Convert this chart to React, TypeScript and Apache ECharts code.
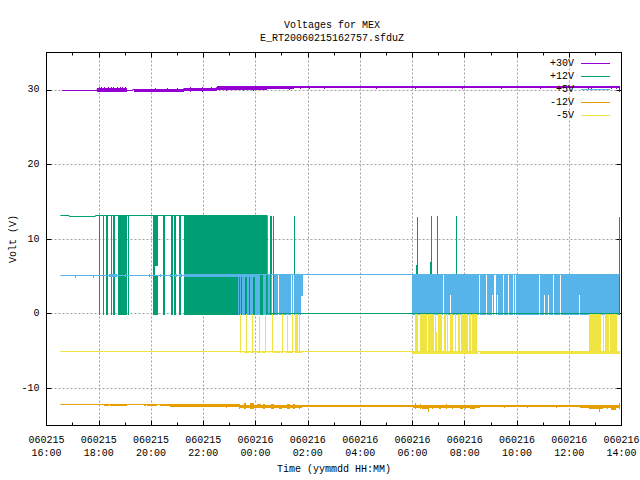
import React, { useEffect, useRef } from "react";
import * as echarts from "echarts";

const seriesNames = ["+30V", "+12V", "+5V", "-12V", "-5V"];
const seriesColors = ["#9400d3", "#009e73", "#56b4e9", "#e69f00", "#f0e442"];
const xTickLabels = [
  "060215\n16:00", "060215\n18:00", "060215\n20:00", "060215\n22:00",
  "060216\n00:00", "060216\n02:00", "060216\n04:00", "060216\n06:00",
  "060216\n08:00", "060216\n10:00", "060216\n12:00", "060216\n14:00",
];
const yTicks = [-10, 0, 10, 20, 30];

// Traces: [hours after 16:00, volts]
const trace30 = [[0.59, 29.906], [1.93, 29.906], [1.93, 30.04], [3.05, 30.04], [3.05, 29.906], [3.3, 29.906], [3.3, 30.04], [5.25, 30.04], [5.25, 30.17], [6.5, 30.17], [6.5, 30.31], [21.95, 30.31]];
const trace12 = [[0.53, 13.15], [0.87, 13.15], [0.87, 13.01], [1.87, 13.01], [1.87, 13.15], [8.447, 13.15], [8.447, 0.013], [21.91, 0.013]];
const trace5 = [[0.53, 5.107], [5.27, 5.107], [5.27, 5.24], [21.95, 5.24]];
const traceM12 = [[0.53, -12.18], [4.7, -12.18], [4.7, -12.32], [21.95, -12.32]];
const traceM5 = [[0.53, -5.08], [21.95, -5.08]];

// Bands: [start hour, end hour, low volts, high volts]
const bands30 = [
  [1.93, 3.08, 29.82, 30.2], [2.0, 2.03, 29.8, 30.32], [2.1, 2.13, 29.8, 30.38], [2.2, 2.23, 29.8, 30.32], [2.35, 2.4, 29.8, 30.38], [2.47, 2.5, 29.8, 30.32], [2.55, 2.58, 29.8, 30.38],
  [2.7, 2.75, 29.8, 30.38], [2.8, 2.84, 29.8, 30.38], [2.88, 2.92, 29.8, 30.35], [3.0, 3.03, 29.8, 30.35], [3.33, 4.1, 29.9, 30.08], [3.55, 3.58, 29.82, 30.08],
  [4.0, 4.03, 29.85, 30.1], [4.1, 5.25, 29.9, 30.12], [4.15, 4.2, 29.85, 30.2], [4.45, 4.5, 29.82, 30.15], [4.62, 4.66, 29.82, 30.2],
  [5.0, 5.05, 29.85, 30.2], [5.25, 6.52, 29.98, 30.28], [5.5, 5.53, 29.85, 30.35], [5.95, 6.0, 29.9, 30.42], [6.3, 6.35, 29.92, 30.42],
  [6.52, 8.43, 30.1, 30.47], [6.85, 6.88, 29.98, 30.47], [7.5, 7.53, 29.95, 30.47], [7.9, 7.95, 30.0, 30.47], [8.43, 9.46, 30.22, 30.47],
  [9.28, 9.31, 30.05, 30.47], [9.46, 21.95, 30.33, 30.47], [9.7, 9.73, 30.22, 30.47], [10.05, 10.1, 30.22, 30.47], [10.6, 10.63, 30.2, 30.47], [12.6, 12.63, 30.2, 30.47],
  [14.1, 14.13, 30.2, 30.47], [15.9, 15.93, 30.2, 30.47], [17.4, 17.43, 30.2, 30.47], [18.9, 18.93, 30.2, 30.47], [20.7, 20.75, 30.2, 30.47],
  [20.82, 20.87, 30.2, 30.47], [21.6, 21.63, 30.2, 30.47], [21.78, 21.81, 30.2, 30.47], [21.91, 21.94, 29.9, 30.47],
];
const bands12 = [
  [2.02, 2.059, 0, 13.12], [2.148, 2.186, 0, 13.12], [2.263, 2.339, 0, 13.12], [2.454, 2.492, 0, 13.12], [2.53, 2.607, 0, 13.12],
  [2.722, 2.76, 0, 13.12], [2.785, 3.066, 0, 13.12], [3.104, 3.142, 0, 13.12], [4.086, 4.163, 0, 13.12], [4.163, 4.265, 6.5, 13.12],
  [4.163, 4.265, 0, 5], [4.456, 4.545, 0, 13.12], [4.775, 4.826, 0, 13.12], [4.889, 4.94, 0, 13.12], [5.081, 5.132, 0, 13.12],
  [5.272, 8.447, 0, 13.12], [8.562, 8.613, 0, 13.12], [8.651, 8.715, 0, 13.12], [9.455, 9.48, 0, 13.12], [14.147, 14.185, 0, 6.5],
  [14.185, 14.223, 0, 13], [14.682, 14.72, 0, 6.9], [14.72, 14.758, 0, 13.12], [14.95, 14.988, 0, 13.12], [15.677, 15.715, 0, 13.12],
  [21.912, 21.95, 0, 13],
];
const bands5 = [
  [1.08, 1.1, 4.95, 5.1], [1.77, 1.79, 4.95, 5.1], [2.38, 2.7, 5.1, 5.25], [3.0, 3.06, 5.1, 5.25], [3.93, 3.96, 5.1, 5.25],
  [4.35, 4.37, 5.1, 5.25], [4.72, 4.74, 5.1, 5.25], [4.93, 5.0, 5.1, 5.25], [5.08, 5.2, 5.1, 5.25], [5.27, 8.0, 5.1, 5.25],
  [7.325, 7.363, 0, 5.22], [7.401, 7.44, 0, 5.22], [7.491, 7.605, 0, 5.22], [7.682, 7.759, 0, 5.22], [7.797, 7.912, 0, 5.22],
  [7.988, 8.179, 0, 5.22], [8.294, 8.409, 0, 5.22], [8.447, 8.536, 0, 5.22], [8.575, 8.613, 0, 5.22], [8.689, 8.868, 0, 5.22],
  [8.906, 9.365, 0, 5.22], [9.404, 9.442, 0, 5.22], [9.48, 9.748, 0, 5.22], [9.748, 9.812, 2.5, 5.22],
  [14.0, 15.179, 0, 5.22], [15.218, 15.447, 0, 5.22], [15.447, 15.485, 2.6, 5.22], [15.485, 16.557, 0, 5.22], [16.595, 16.824, 0, 5.22],
  [16.863, 17.054, 0, 5.22], [17.054, 17.092, 2.6, 5.22], [17.092, 17.13, 0, 5.22], [17.207, 17.245, 0, 5.22], [17.245, 17.283, 2.6, 5.22],
  [17.283, 17.475, 0, 5.22], [17.513, 17.666, 0, 5.22], [17.704, 17.857, 0, 5.22], [17.896, 17.934, 0, 5.22], [17.972, 18.852, 0, 5.22],
  [18.89, 19.043, 0, 5.22], [19.043, 19.082, 2.6, 5.22], [19.082, 19.196, 0, 5.22], [19.196, 19.235, 2.6, 5.22], [19.235, 19.388, 0, 5.22],
  [19.426, 19.655, 0, 5.22], [19.694, 20.382, 0, 5.22], [20.382, 20.42, 2.6, 5.22], [20.42, 21.912, 0, 5.22],
];
const bandsM12 = [
  [2.19, 2.4, -12.3, -12.18], [2.44, 3.08, -12.3, -12.18], [3.72, 3.8, -12.3, -12.18], [3.84, 4.23, -12.3, -12.18], [4.35, 4.74, -12.3, -12.18],
  [4.74, 7.35, -12.42, -12.18], [6.85, 6.88, -12.5, -12.18], [7.35, 9.77, -12.5, -12.2], [7.35, 7.42, -12.7, -12.1], [7.55, 7.62, -12.6, -12.05],
  [7.8, 7.95, -12.6, -12.05], [8.05, 8.2, -12.55, -12.1], [8.3, 8.36, -12.6, -12.1], [8.6, 8.7, -12.6, -12.15], [8.9, 9.0, -12.65, -12.2],
  [9.2, 9.3, -12.6, -12.1], [9.45, 9.5, -12.6, -12.15], [9.65, 9.7, -12.65, -12.2], [9.77, 14.04, -12.45, -12.2], [14.04, 16.6, -12.5, -12.2],
  [14.1, 14.14, -12.65, -12.05], [14.3, 14.33, -12.7, -12.1], [14.38, 14.6, -12.65, -12.2], [14.58, 14.61, -13.0, -12.2], [14.75, 14.79, -12.65, -12.2],
  [15.0, 15.1, -12.62, -12.2], [15.3, 15.33, -12.62, -12.15], [15.5, 15.53, -12.62, -12.2], [15.82, 15.95, -12.65, -12.2], [16.0, 16.05, -12.7, -12.2],
  [16.2, 16.4, -12.62, -12.2], [16.6, 20.42, -12.45, -12.22], [17.5, 17.53, -12.58, -12.22], [18.4, 18.43, -12.58, -12.22], [19.5, 19.53, -12.58, -12.22],
  [20.42, 21.93, -12.5, -12.22], [20.74, 21.31, -12.72, -12.25], [21.15, 21.18, -13.05, -12.25], [21.45, 21.5, -12.65, -12.2], [21.6, 21.8, -12.75, -12.2],
  [21.9, 21.93, -12.6, -11.95],
];
const bandsM5 = [
  [7.414, 7.453, -5.2, 0], [7.644, 7.682, -5.2, 0], [7.873, 7.912, -5.2, 0], [8.141, 8.179, -5.2, 0], [8.371, 8.409, -5.2, 0],
  [8.638, 8.677, -5.2, 0], [9.021, 9.059, -5.2, 0], [9.212, 9.251, -5.2, 0], [9.404, 9.442, -5.2, 0], [9.518, 9.633, -5.2, 0], [9.671, 9.71, -5.2, 0],
  [7.389, 7.453, -5.2, -5.1], [7.567, 7.759, -5.2, -5.1], [7.797, 7.95, -5.2, -5.1], [8.065, 8.218, -5.2, -5.1], [8.256, 8.409, -5.2, -5.1],
  [8.485, 8.524, -5.2, -5.1], [8.715, 8.944, -5.2, -5.1], [8.983, 9.059, -5.2, -5.1], [9.174, 9.404, -5.2, -5.1], [9.518, 9.786, -5.2, -5.1],
  [14.108, 14.223, -5.2, 0], [14.3, 14.567, -5.2, 0], [14.606, 14.835, -5.2, 0], [14.873, 14.912, -5.2, 0], [14.912, 14.95, -5.2, -2.5],
  [14.988, 15.141, -5.2, 0], [15.218, 15.294, -5.2, 0], [15.332, 15.371, -5.2, 0], [15.447, 15.562, -5.2, 0], [15.638, 15.677, -5.2, 0],
  [15.753, 15.83, -5.2, 0], [15.868, 16.136, -5.2, 0], [16.174, 16.251, -5.2, 0], [16.289, 16.48, -5.2, 0], [20.765, 21.224, -5.2, 0],
  [21.3, 21.339, -5.2, 0], [21.377, 21.53, -5.2, 0], [21.568, 21.836, -5.2, 0], [14.0, 16.5, -5.3, -5.1], [16.6, 21.93, -5.3, -5.1],
];

const traces = [trace30, trace12, trace5, traceM12, traceM5];
const bandLists = [bands30, bands12, bands5, bandsM12, bandsM5];

const FONT = "'Liberation Mono', monospace";

function renderBand(params: any, api: any) {
  const a = api.coord([api.value(0), api.value(3)]);
  const b = api.coord([api.value(1), api.value(2)]);
  const x0 = Math.round(a[0]);
  const y0 = Math.round(a[1]);
  const w = Math.max(1, Math.round(b[0]) - x0);
  const h = Math.max(1, Math.round(b[1]) - y0 + 1);
  return {
    type: "rect",
    shape: { x: x0, y: y0, width: w, height: h },
    style: { fill: api.visual("color"), stroke: null },
  };
}

export default function App() {
  const ref = useRef<HTMLDivElement>(null);
  useEffect(() => {
    const chart = echarts.init(ref.current!, null, { renderer: "svg" });
    const textStyle = { fontFamily: FONT, fontSize: 10, color: "#000" };
    const series: any[] = [];
    seriesNames.forEach((name, i) => {
      series.push({
        type: "line",
        name,
        data: traces[i],
        showSymbol: false,
        symbol: "none",
        lineStyle: { color: seriesColors[i], width: 1 },
        itemStyle: { color: seriesColors[i] },
        silent: true,
      });
      series.push({
        type: "custom",
        name,
        data: bandLists[i],
        renderItem: renderBand,
        itemStyle: { color: seriesColors[i] },
        encode: { x: [0, 1], y: [2, 3] },
        silent: true,
      });
    });
    const gridLine = { show: true, lineStyle: { color: "#a0a0a0", type: [2, 2], width: 1 } };
    const blackLine = { show: true, onZero: false, lineStyle: { color: "#000", width: 1 } };
    const xBase = {
      type: "value",
      min: 0,
      max: 22,
      interval: 2,
      axisLine: blackLine,
      axisTick: { show: true, inside: true, length: 5, lineStyle: { color: "#000" } },
      minorTick: { show: true, splitNumber: 2, length: 3, lineStyle: { color: "#000" } },
    };
    const yBase = {
      type: "value",
      min: -15,
      max: 35,
      axisLine: blackLine,
      axisTick: { show: true, inside: true, length: 5, customValues: yTicks, lineStyle: { color: "#000" } },
    };
    chart.setOption({
      animation: false,
      backgroundColor: "#fff",
      textStyle,
      title: {
        text: "Voltages for MEX\nE_RT20060215162757.sfduZ",
        left: 327,
        top: 14,
        textAlign: "center",
        textStyle: { ...textStyle, fontWeight: "normal", lineHeight: 13 },
      },
      grid: { left: 46.5, top: 52.5, width: 575, height: 373, outerBoundsMode: "none" },
      legend: {
        orient: "vertical",
        align: "right",
        right: 30,
        top: 57.5,
        itemWidth: 29,
        itemHeight: 1,
        itemGap: 1,
        padding: 0,
        selectedMode: false,
        textStyle: { ...textStyle, padding: [0, 2, 0, 0], lineHeight: 12 },
        data: seriesNames.map((name) => ({ name, icon: "rect" })),
      },
      xAxis: [
        {
          ...xBase,
          position: "bottom",
          name: "Time (yymmdd HH:MM)",
          nameLocation: "middle",
          nameGap: 39,
          nameMoveOverlap: false,
          nameTextStyle: textStyle,
          splitLine: gridLine,
          axisLabel: {
            ...textStyle,
            margin: 8,
            lineHeight: 13,
            formatter: (v: number) => xTickLabels[Math.round(v / 2)],
          },
        },
        { ...xBase, position: "top", axisLabel: { show: false }, splitLine: { show: false } },
      ],
      yAxis: [
        {
          ...yBase,
          position: "left",
          name: "Volt (V)",
          nameLocation: "middle",
          nameGap: 28,
          nameMoveOverlap: false,
          nameTextStyle: textStyle,
          splitLine: gridLine,
          axisLabel: { ...textStyle, margin: 7, customValues: yTicks },
        },
        { ...yBase, position: "right", axisLabel: { show: false }, splitLine: { show: false } },
      ],
      series,
    });
    return () => chart.dispose();
  }, []);
  return <div ref={ref} style={{ position: "absolute", left: 0, top: 0, width: 640, height: 480 }} />;
}
